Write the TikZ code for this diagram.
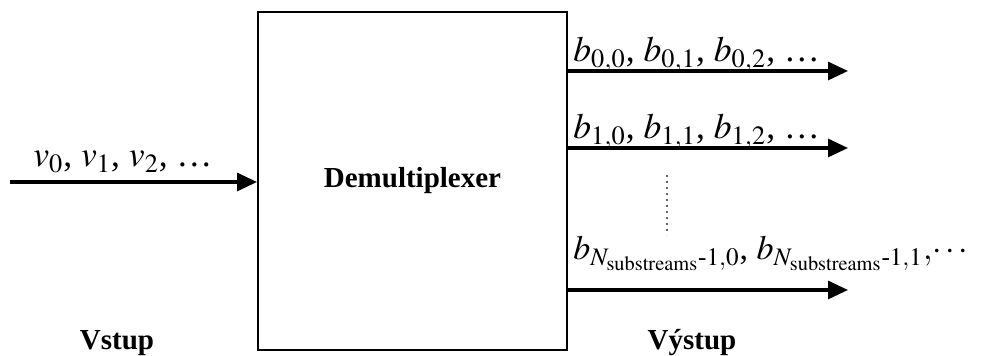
\documentclass[tikz,border=0pt]{standalone}
\usepackage{amsmath}
\usepackage{mathptmx}
\usepackage{fontspec}
\setmainfont{Liberation Serif}
\usetikzlibrary{arrows.meta, positioning}

\begin{document}
\begin{tikzpicture}[
			x=0.5pt, y=0.5pt,
			box/.style={
				draw,
				rectangle,
				line width=1pt,
				minimum width=154.5pt,
				minimum height=169pt,
				font=\fontsize{14.5}{17}\selectfont\bfseries
			},
			arrow/.style={-{Triangle[length=10pt, width=9pt]}, line width=1.6pt},
			seq/.style={anchor=base west, inner sep=0pt, font=\fontsize{17.8}{20}\selectfont},
			tag/.style={anchor=base, inner sep=0pt, font=\fontsize{14.5}{17}\selectfont\bfseries}
			]
			
			\useasboundingbox (0,0) rectangle (982,356);
			
			\node[box] (demux) at (412.5,175) {Demultiplexer};
			
			\coordinate (in) at (10,174);
			\coordinate (out0) at (848,285);
			\coordinate (out1) at (848,208);
			\coordinate (outn) at (848,66);
			\coordinate (dottop) at (667,181);
			\coordinate (dotbot) at (667,121);
			
			\draw[arrow] (in) -- (in -| demux.west);
			\draw[arrow] (out0 -| demux.east) -- (out0);
			\draw[arrow] (out1 -| demux.east) -- (out1);
			\draw[arrow] (outn -| demux.east) -- (outn);
			\draw[black!60, dotted, line width=1pt] (dottop) -- (dotbot);
			
			\node[seq] (vin) at (33,189) {$v_0$, $v_1$, $v_2$, \ldots};
			\node[seq] (b0) at (573,294) {$b_{0,0}$, $b_{0,1}$, $b_{0,2}$, \ldots};
			\node[seq] (b1) at (573,217) {$b_{1,0}$, $b_{1,1}$, $b_{1,2}$, \ldots};
			\node[seq, font=\fontsize{17}{20}\selectfont] (bn) at (573,96) {$b_{N_{\mathrm{substreams}}\text{-}1,0}$, $b_{N_{\mathrm{substreams}}\text{-}1,1}{,}\!\cdots$};
			
			\node[tag] (vstup) at (117,6) {Vstup};
			\node[tag] (vystup) at (692,6) {Výstup};
			
		\end{tikzpicture}
\end{document}
